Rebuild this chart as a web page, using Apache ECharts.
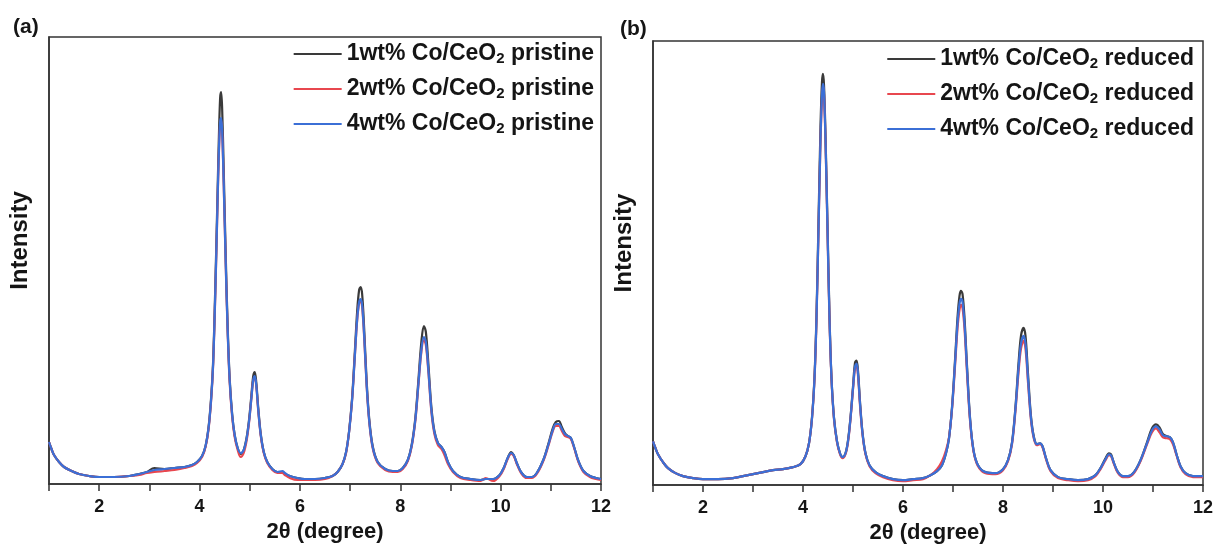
<!DOCTYPE html>
<html><head><meta charset="utf-8">
<script src="https://cdn.jsdelivr.net/npm/echarts@6/dist/echarts.min.js"></script>
<style>html,body{margin:0;padding:0;background:#fff}#c{width:1219px;height:549px}</style>
</head><body><div id="c"></div>
<script>
const panelLabels = ['(a)', '(b)'];
const xTitle = '2\u03b8 (degree)';
const yTitle = 'Intensity';
const namesA = ['1wt% Co/CeO2 pristine', '2wt% Co/CeO2 pristine', '4wt% Co/CeO2 pristine'];
const namesB = ['1wt% Co/CeO2 reduced', '2wt% Co/CeO2 reduced', '4wt% Co/CeO2 reduced'];
const colors = ['#3a3a3a', '#e8474f', '#3b6fd6'];

// Panel (a): 2theta and intensities (arb. units)
const xA = [1.00,1.05,1.10,1.20,1.30,1.45,1.60,1.80,2.00,2.30,
  2.60,2.80,2.95,3.10,3.30,3.50,3.70,3.85,3.95,4.05,
  4.12,4.18,4.23,4.27,4.31,4.35,4.38,4.41,4.43,4.45,
  4.48,4.52,4.56,4.60,4.65,4.70,4.76,4.82,4.88,4.94,
  4.99,5.03,5.07,5.10,5.13,5.17,5.22,5.28,5.35,5.45,
  5.55,5.65,5.70,5.80,5.95,6.10,6.30,6.50,6.65,6.75,
  6.85,6.92,6.98,7.04,7.09,7.14,7.18,7.21,7.24,7.28,
  7.33,7.38,7.45,7.55,7.70,7.85,7.95,8.05,8.15,8.23,
  8.30,8.36,8.42,8.47,8.51,8.56,8.62,8.68,8.75,8.82,
  8.88,8.95,9.05,9.20,9.40,9.60,9.70,9.85,9.98,10.07,
  10.14,10.21,10.26,10.33,10.42,10.52,10.62,10.72,10.85,10.95,
  11.04,11.10,11.16,11.22,11.28,11.34,11.40,11.47,11.55,11.65,
  11.78,11.90,12.00];
const yA1 = [42,35,29,22,17,13,10,8,7,7,
  8,10,12,16,15,16,17,19,22,28,
  38,57,86,122,190,272,336,386,392,376,
  318,232,158,106,70,49,36,30,34,47,
  66,87,108,112,102,76,50,32,22,15,
  12,12,10,8,6,5,5,6,8,12,
  20,32,53,86,128,172,194,197,190,156,
  103,66,38,22,15,13,13,16,24,40,
  66,103,142,158,152,120,77,53,41,37,
  32,22,13,7,5,4,5,5,9,17,
  26,32,29,20,11,7,7,11,24,40,
  56,62,63,57,51,48,46,36,23,13,
  8,6,5];
const yA2 = [42,35,29,22,17,13,10,8,7,7,
  8,9,11,12,13,14,16,18,21,27,
  37,55,83,118,182,262,322,360,364,352,
  302,222,152,102,67,47,34,27,31,44,
  63,84,104,106,98,73,48,31,21,14,
  11,11,9,6,4,4,4,5,8,12,
  20,31,52,84,124,163,181,183,177,147,
  98,63,36,21,14,12,12,15,23,38,
  63,98,132,144,139,112,72,50,39,35,
  29,20,12,6,4,3,6,3,8,16,
  25,30,28,19,10,6,6,10,23,38,
  53,58,58,53,48,47,45,35,22,12,
  7,5,4];
const yA4 = [42,35,29,22,17,13,10,8,7,7,
  8,10,12,14,15,16,17,19,22,28,
  38,56,84,119,184,264,324,362,366,354,
  304,224,154,104,69,49,36,31,34,46,
  64,84,104,108,99,74,49,32,22,15,
  12,13,11,8,6,5,5,6,8,12,
  20,32,52,84,124,164,182,185,179,149,
  99,64,37,22,15,13,13,16,24,39,
  64,99,134,147,142,114,74,52,41,37,
  32,22,13,7,5,4,5,5,9,17,
  26,31,29,20,11,7,7,11,24,39,
  54,60,60,55,50,48,46,36,23,13,
  8,6,5];

// Panel (b)
const xB = [1.00,1.05,1.10,1.20,1.30,1.45,1.60,1.80,2.00,2.30,
  2.60,2.80,3.00,3.20,3.40,3.60,3.80,3.95,4.05,4.12,
  4.18,4.23,4.27,4.31,4.35,4.38,4.40,4.42,4.45,4.49,
  4.53,4.57,4.62,4.68,4.74,4.79,4.85,4.90,4.95,5.00,
  5.04,5.07,5.10,5.14,5.19,5.25,5.33,5.45,5.60,5.80,
  6.00,6.20,6.40,6.55,6.68,6.78,6.86,6.92,6.98,7.04,
  7.09,7.13,7.16,7.19,7.23,7.28,7.34,7.41,7.50,7.65,
  7.85,8.00,8.10,8.18,8.25,8.31,8.36,8.41,8.45,8.50,
  8.56,8.62,8.68,8.74,8.79,8.86,8.95,9.10,9.30,9.50,
  9.70,9.85,9.95,10.05,10.12,10.16,10.22,10.30,10.40,10.50,
  10.62,10.75,10.88,10.98,11.06,11.13,11.20,11.28,11.34,11.40,
  11.47,11.55,11.65,11.80,12.00];
const yB1 = [44,37,31,23,17,12,9,7,6,6,
  7,9,11,13,15,16,18,21,29,42,
  68,109,171,265,360,405,413,402,352,262,
  170,108,68,44,32,28,32,45,68,99,
  123,125,115,84,53,32,20,13,9,6,
  5,6,7,10,14,20,32,47,78,125,
  168,190,195,192,168,120,68,35,20,13,
  12,16,25,43,79,122,150,158,150,112,
  69,48,41,42,39,27,15,8,6,5,
  6,10,17,27,32,31,22,13,9,9,
  13,25,43,57,61,58,51,49,48,43,
  31,19,12,9,9];
const yB2 = [44,37,31,23,17,12,9,7,6,6,
  7,9,11,13,15,16,18,21,29,42,
  67,106,166,255,344,388,401,392,344,254,
  165,106,66,43,31,27,31,43,66,96,
  117,120,110,80,51,31,19,12,8,5,
  4,5,6,10,16,24,35,48,76,119,
  157,176,181,178,157,113,65,34,19,12,
  11,15,24,41,75,113,137,145,137,103,
  65,46,40,41,38,26,14,7,5,4,
  5,9,16,25,30,29,21,12,8,8,
  12,24,41,53,57,53,48,47,46,41,
  30,18,11,8,8];
const yB4 = [44,37,31,23,17,12,9,7,6,6,
  7,9,11,13,15,16,18,21,29,42,
  67,107,167,257,347,392,403,395,347,257,
  167,107,67,44,32,28,32,44,67,97,
  119,122,112,82,52,32,20,13,9,6,
  5,6,7,10,14,20,32,47,77,122,
  162,182,187,184,162,117,67,35,20,13,
  12,16,25,42,77,117,142,150,142,107,
  67,47,41,42,39,27,15,8,6,5,
  6,10,17,26,31,30,22,13,9,9,
  13,25,42,55,59,56,50,49,48,43,
  31,19,12,9,9];

const zip = (xs, ys) => xs.map((x, i) => [x, ys[i]]);
const FONT = 'Liberation Sans, Arial, sans-serif';
const ink = '#151515';

function xAxis(gi) {
  return {
    type: 'value', gridIndex: gi, min: 1, max: 12, interval: 1,
    name: xTitle, nameLocation: 'middle', nameGap: 36,
    nameTextStyle: {fontFamily: FONT, fontWeight: 'bold', fontSize: 22, color: ink},
    axisLine: {show: true, onZero: false, lineStyle: {color: '#333', width: 1.5}},
    axisTick: {show: true, length: 7, lineStyle: {color: '#333', width: 1.5}},
    axisLabel: {fontFamily: FONT, fontWeight: 'bold', fontSize: 18, color: ink, margin: 14,
      formatter: v => (v % 2 === 0 ? String(v) : '')},
    splitLine: {show: false}
  };
}
function yAxis(gi, max) {
  return {
    type: 'value', gridIndex: gi, min: 0, max: max,
    name: yTitle, nameLocation: 'middle', nameGap: 17, nameRotate: 90,
    nameTextStyle: {fontFamily: FONT, fontWeight: 'bold', fontSize: 24, color: ink, padding: [0, 0, 0, 40]},
    axisLine: {show: true, lineStyle: {color: '#333', width: 1.5}},
    axisTick: {show: false}, axisLabel: {show: false}, splitLine: {show: false}
  };
}
function legend(names, right, top) {
  return {
    orient: 'vertical', right: right, top: top, itemGap: 5, itemWidth: 48, itemHeight: 12,
    data: names, icon: 'path://M0,0L48,0L48,1.8L0,1.8Z',
    formatter: n => n.replace('CeO2', 'CeO{s|2}'),
    textStyle: {fontFamily: FONT, fontWeight: 'bold', fontSize: 23, color: ink, lineHeight: 24,
      rich: {s: {fontFamily: FONT, fontWeight: 'bold', fontSize: 15, color: ink, lineHeight: 15,
        verticalAlign: 'bottom', padding: [15, 0, 0, 0]}}}
  };
}
function line(name, gi, data, color) {
  return {
    type: 'line', name: name, xAxisIndex: gi, yAxisIndex: gi, data: data,
    symbol: 'none', smooth: 0.35, color: color,
    lineStyle: {color: color, width: 2.2}, animation: false
  };
}

const chart = echarts.init(document.getElementById('c'));
chart.setOption({
  animation: false,
  backgroundColor: '#fff',
  grid: [
    {left: 49, right: 1219 - 601, top: 37, bottom: 549 - 484, show: true, borderColor: '#333', borderWidth: 1.5},
    {left: 653, right: 1219 - 1203, top: 41, bottom: 549 - 487, show: true, borderColor: '#333', borderWidth: 1.5}
  ],
  xAxis: [xAxis(0), xAxis(1)],
  yAxis: [yAxis(0, 447), yAxis(1, 446)],
  legend: [legend(namesA, 1219 - 599, 31), legend(namesB, 1219 - 1199, 36)],
  graphic: [
    {type: 'text', left: 13, top: 17, style: {text: panelLabels[0], font: 'bold 21px ' + FONT, fill: ink}},
    {type: 'text', left: 620, top: 19, style: {text: panelLabels[1], font: 'bold 21px ' + FONT, fill: ink}}
  ],
  series: [
    line(namesA[0], 0, zip(xA, yA1), colors[0]),
    line(namesA[1], 0, zip(xA, yA2), colors[1]),
    line(namesA[2], 0, zip(xA, yA4), colors[2]),
    line(namesB[0], 1, zip(xB, yB1), colors[0]),
    line(namesB[1], 1, zip(xB, yB2), colors[1]),
    line(namesB[2], 1, zip(xB, yB4), colors[2])
  ]
});
</script>
</body></html>
